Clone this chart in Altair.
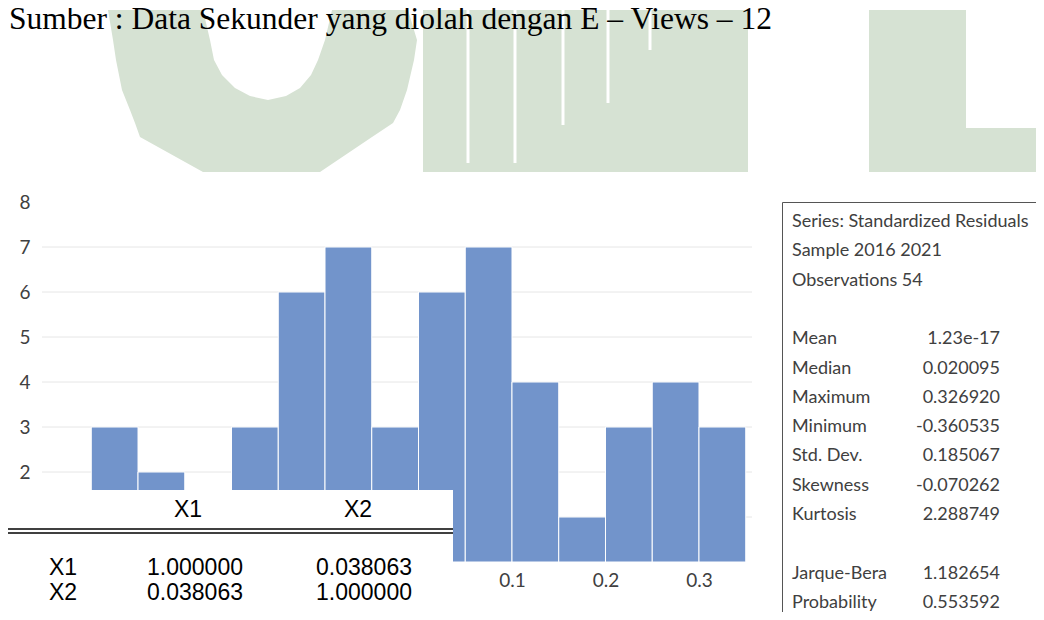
import altair as alt
import pandas as pd

# ---------------- chart data ----------------
BIN_START = [-0.35, -0.30, -0.25, -0.20, -0.15, -0.10, -0.05, 0.00, 0.05, 0.10, 0.15, 0.20, 0.25, 0.30]
BIN_WIDTH = 0.05
COUNTS = [3, 2, 1, 3, 6, 7, 3, 6, 7, 4, 1, 3, 4, 3]
X_TICKS = [-0.3, -0.2, -0.1, 0.0, 0.1, 0.2, 0.3]
Y_TICKS = [0, 1, 2, 3, 4, 5, 6, 7, 8]
GRID_Y = [1, 2, 3, 4, 5, 6, 7]

STATS_HEADER = ["Series: Standardized Residuals", "Sample 2016 2021", "Observations 54"]
STATS_LABELS = ["Mean", "Median", "Maximum", "Minimum", "Std. Dev.", "Skewness",
                "Kurtosis", "Jarque-Bera", "Probability"]
STATS_VALUES = ["1.23e-17", "0.020095", "0.326920", "-0.360535", "0.185067", "-0.070262",
                "2.288749", "1.182654", "0.553592"]

CORR_VARS = ["X1", "X2"]
CORR_VALUES = [["1.000000", "0.038063"], ["0.038063", "1.000000"]]

SOURCE_TEXT = "Sumber : Data Sekunder yang diolah dengan E \u2013 Views \u2013 12"

# ---------------- layout (page pixels) ----------------
PLOT_LEFT, PLOT_TOP, PLOT_W, PLOT_H = 42, 202, 710, 360
X_DOMAIN = [-0.4027, 0.3567]
Y_DOMAIN = [0, 8]
BAR_COLOR = "#7294cb"
GREEN = "#d6e2d3"
TEXT_GRAY = "#404040"
CAL_FONT = "Lato"

def lx(v):
    return v - PLOT_LEFT

def ly(v):
    return v - PLOT_TOP

def PX(field, **kw):
    return alt.X(field, scale=None, axis=None, **kw)

def PY(field, **kw):
    return alt.Y(field, scale=None, axis=None, **kw)

# ---------------- watermark (decoration) ----------------
U_OUTER = [(10, 108, 408), (40, 113, 417), (60, 116, 414), (90, 122, 407), (110, 130, 400),
           (123, 135, 393), (137, 140, 372), (172, 203, 320)]
U_HOLE = [(10, 203, 332), (40, 210, 325), (60, 214, 318), (75, 222, 311), (88, 235, 300),
          (96, 250, 286), (100, 268, 268)]
WM_RECTS = [(423, 748, 10, 172), (869, 966, 10, 172), (966, 1060, 128, 172)]
WM_GAPS = [(468, 163), (515, 163), (563, 125), (608, 103), (650, 50)]

def area_df(rows):
    return pd.DataFrame({"y": [ly(r[0]) for r in rows],
                         "xl": [lx(r[1]) for r in rows],
                         "xr": [lx(r[2]) for r in rows]})

u_outer = alt.Chart(area_df(U_OUTER)).mark_area(orient="horizontal", color=GREEN).encode(
    y=PY("y:Q"), x=PX("xl:Q", stack=None), x2="xr:Q")
u_hole = alt.Chart(area_df(U_HOLE)).mark_area(orient="horizontal", color="white").encode(
    y=PY("y:Q"), x=PX("xl:Q", stack=None), x2="xr:Q")
wm_rects = alt.Chart(pd.DataFrame({
    "x": [lx(r[0]) for r in WM_RECTS], "x2": [lx(r[1]) for r in WM_RECTS],
    "y": [ly(r[2]) for r in WM_RECTS], "y2": [ly(r[3]) for r in WM_RECTS]})
).mark_rect(color=GREEN).encode(x=PX("x:Q"), x2="x2:Q", y=PY("y:Q"), y2="y2:Q")
wm_gaps = alt.Chart(pd.DataFrame({
    "x": [lx(g[0]) for g in WM_GAPS], "y": [ly(10)] * len(WM_GAPS),
    "y2": [ly(g[1]) for g in WM_GAPS]})
).mark_rule(color="white", strokeWidth=3).encode(x=PX("x:Q"), y=PY("y:Q"), y2="y2:Q")

# ---------------- histogram ----------------
hist_df = pd.DataFrame({"start": BIN_START,
                        "end": [b + BIN_WIDTH for b in BIN_START],
                        "count": COUNTS,
                        "base": [0] * len(COUNTS)})
xs = alt.Scale(domain=X_DOMAIN, nice=False, zero=False)
ys = alt.Scale(domain=Y_DOMAIN, nice=False)

grid = alt.Chart(pd.DataFrame({"g": GRID_Y})).mark_rule(color="#e6e6e6", strokeWidth=1).encode(
    y=alt.Y("g:Q", scale=ys, axis=None))

bars = alt.Chart(hist_df).mark_rect(color=BAR_COLOR, stroke="white", strokeWidth=1).encode(
    x=alt.X("start:Q", scale=xs,
            axis=alt.Axis(values=X_TICKS, format=".1f", title=None, grid=False, domain=False,
                          ticks=False, labelFont=CAL_FONT, labelFontSize=19,
                          labelColor=TEXT_GRAY, labelPadding=9, labelFlush=False)),
    x2="end:Q",
    y=alt.Y("count:Q", scale=ys,
            axis=alt.Axis(values=Y_TICKS, format="d", title=None, grid=False, domain=False,
                          ticks=False, labelFont=CAL_FONT, labelFontSize=19,
                          labelColor=TEXT_GRAY, labelPadding=12)),
    y2="base:Q",
)

# ---------------- correlation table overlay ----------------
white_box = alt.Chart(pd.DataFrame({"x": [lx(-20)], "x2": [lx(453)], "y": [ly(490)], "y2": [ly(700)]})
                      ).mark_rect(color="white").encode(x=PX("x:Q"), x2="x2:Q", y=PY("y:Q"), y2="y2:Q")
dbl_lines = alt.Chart(pd.DataFrame({"x": [lx(8)] * 2, "x2": [lx(453)] * 2, "y": [ly(529), ly(533)]})
                      ).mark_rule(color="black", strokeWidth=1.6).encode(x=PX("x:Q"), x2="x2:Q", y=PY("y:Q"))

COL_HEAD_X = [188, 358]
COL_VAL_RIGHT = [243, 412]
ROW_Y = [568, 593]
TABLE_FONT = "Liberation Sans"
TABLE_SIZE = 23
corr_head = alt.Chart(pd.DataFrame({"t": CORR_VARS, "x": [lx(v) for v in COL_HEAD_X],
                                    "y": [ly(510)] * 2})
                      ).mark_text(font=TABLE_FONT, fontSize=TABLE_SIZE, color="black", align="center",
                                  baseline="middle").encode(x=PX("x:Q"), y=PY("y:Q"), text="t:N")
corr_rowlab = alt.Chart(pd.DataFrame({"t": CORR_VARS, "x": [lx(49)] * 2, "y": [ly(v) for v in ROW_Y]})
                        ).mark_text(font=TABLE_FONT, fontSize=TABLE_SIZE, color="black", align="left",
                                    baseline="middle").encode(x=PX("x:Q"), y=PY("y:Q"), text="t:N")
cv_rows = []
for i, row in enumerate(CORR_VALUES):
    for j, val in enumerate(row):
        cv_rows.append({"t": val, "x": lx(COL_VAL_RIGHT[j]), "y": ly(ROW_Y[i])})
corr_vals = alt.Chart(pd.DataFrame(cv_rows)).mark_text(
    font=TABLE_FONT, fontSize=TABLE_SIZE, color="black", align="right", baseline="middle").encode(
    x=PX("x:Q"), y=PY("y:Q"), text="t:N")

# ---------------- statistics box ----------------
ROW0_Y, ROW_STEP = 222, 29.3
HEADER_ROWS = [0, 1, 2]
STAT_ROWS = [4, 5, 6, 7, 8, 9, 10, 12, 13]
stats_box = alt.Chart(pd.DataFrame({"x": [lx(782.5)], "x2": [lx(1100)], "y": [ly(202.5)], "y2": [ly(720)]})
                      ).mark_rect(fillOpacity=0, stroke="#555555", strokeWidth=1).encode(
    x=PX("x:Q"), x2="x2:Q", y=PY("y:Q"), y2="y2:Q")
st_left = pd.DataFrame({"t": STATS_HEADER + STATS_LABELS,
                        "x": [lx(792)] * (len(STATS_HEADER) + len(STATS_LABELS)),
                        "y": [ly(ROW0_Y + ROW_STEP * r) for r in HEADER_ROWS + STAT_ROWS]})
stats_left = alt.Chart(st_left).mark_text(font=CAL_FONT, fontSize=18, color=TEXT_GRAY, align="left",
                                          baseline="middle").encode(x=PX("x:Q"), y=PY("y:Q"), text="t:N")
st_right = pd.DataFrame({"t": STATS_VALUES, "x": [lx(1000)] * len(STATS_VALUES),
                         "y": [ly(ROW0_Y + ROW_STEP * r) for r in STAT_ROWS]})
stats_right = alt.Chart(st_right).mark_text(font=CAL_FONT, fontSize=18, color=TEXT_GRAY, align="right",
                                            baseline="middle").encode(x=PX("x:Q"), y=PY("y:Q"), text="t:N")

# ---------------- source line ----------------
source = alt.Chart(pd.DataFrame({"t": [SOURCE_TEXT], "x": [lx(9)], "y": [ly(29)]})).mark_text(
    font="Liberation Serif", fontSize=31.5, color="black", align="left", baseline="alphabetic").encode(
    x=PX("x:Q"), y=PY("y:Q"), text="t:N")

chart = alt.layer(
    u_outer, u_hole, wm_rects, wm_gaps,
    grid, bars,
    white_box, dbl_lines, corr_head, corr_rowlab, corr_vals,
    stats_box, stats_left, stats_right,
    source,
).resolve_scale(x="independent", y="independent").properties(
    width=PLOT_W, height=PLOT_H,
    padding={"left": PLOT_LEFT - 8, "top": PLOT_TOP - 8, "right": 1028 - (PLOT_LEFT - 8) - PLOT_W,
             "bottom": 604 - (PLOT_TOP - 8) - PLOT_H},
    autosize=alt.AutoSizeParams(type="none"),
    background="white",
).configure_view(strokeWidth=0, stroke="transparent")

chart.save("out.html", embed_options={"renderer": "svg", "actions": False})
